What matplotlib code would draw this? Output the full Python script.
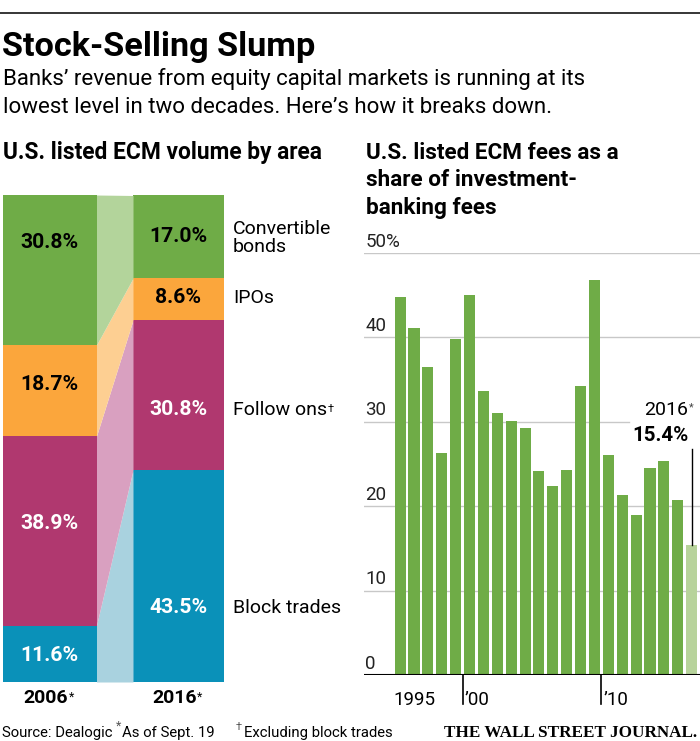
import matplotlib
matplotlib.use("Agg")
import matplotlib.pyplot as plt

W, H = 700, 741
plt.rcParams['font.family'] = ['Roboto', 'DejaVu Sans']

# left panel: share of ECM volume (%)
areas = ["Block trades", "Follow ons", "IPOs", "Convertible\nbonds"]
vol_2006 = [11.6, 38.9, 18.7, 30.8]
vol_2016 = [43.5, 30.8, 8.6, 17.0]
bar_years = ["2006", "2016"]

# right panel: ECM fees as share of investment-banking fees (%)
years = list(range(1995, 2017))
fee_share = [44.8, 41.1, 36.5, 26.3, 39.8, 45.0, 33.6, 31.0, 30.1, 29.3, 24.2,
             22.4, 24.3, 34.3, 46.8, 26.1, 21.3, 18.9, 24.5, 25.4, 20.7, 15.4]

seg_colors = ["#0a91b9", "#b0386f", "#fba63c", "#6fac47"]
link_colors = ["#a9d2df", "#d9a0c0", "#fdcf92", "#b3d49b"]
txt_colors = ["white", "white", "black", "black"]


def fx(x):
    return x / W


def fy(y):
    return 1 - y / H


fig = plt.figure(figsize=(W / 100, H / 100), dpi=100)
fig.patch.set_facecolor("white")

# header
fig.add_artist(plt.Line2D([0, 1], [fy(12.7), fy(12.7)], color="black", lw=1.1))
fig.text(fx(2), fy(56), "Stock-Selling Slump", fontsize=24.7, fontweight="bold",
         va="baseline", ha="left")
fig.text(fx(3), fy(85), "Banks\u2019 revenue from equity capital markets is running at its",
         fontsize=16, va="baseline")
fig.text(fx(3), fy(113), "lowest level in two decades. Here\u2019s how it breaks down.",
         fontsize=16, va="baseline")
fig.text(fx(3), fy(159), "U.S. listed ECM volume by area", fontsize=16.4,
         fontweight="bold", va="baseline")
for k, line in enumerate(["U.S. listed ECM fees as a", "share of investment-",
                          "banking fees"]):
    fig.text(fx(366), fy(159 + 27.5 * k), line, fontsize=16.2, fontweight="bold",
             va="baseline")

# ---- left: stacked 100% bars with connecting bands
ax1 = fig.add_axes([fx(3), fy(682), fx(221), (682 - 195) / H])
x06, x16, bw06, bw16 = 0, 130, 93.5, 91
b06 = 0
b16 = 0
for i in range(len(areas)):
    ax1.bar(x06, vol_2006[i], bw06, bottom=b06, align="edge", color=seg_colors[i], lw=0)
    ax1.bar(x16, vol_2016[i], bw16, bottom=b16, align="edge", color=seg_colors[i], lw=0)
    ax1.fill_between([x06 + bw06, x16], [b06, b16],
                     [b06 + vol_2006[i], b16 + vol_2016[i]],
                     color=link_colors[i], lw=0)
    b06 += vol_2006[i]
    b16 += vol_2016[i]
ax1.set_xlim(0, 221)
ax1.set_ylim(0, 100)
ax1.axis("off")

# value labels (y in % of bar height)
lab06_y = [5.5, 32.6, 61.0, 90.3]
lab16_y = [15.2, 55.9, 78.9, 91.4]
legend_y = [15.2, 55.9, 78.9, 91.2]
legend_txt = []
for i in range(len(areas)):
    ax1.text(x06 + bw06 / 2, lab06_y[i], f"{vol_2006[i]:.1f}%", ha="center",
             va="center", fontsize=15.2, fontweight="bold", color=txt_colors[i])
    ax1.text(x16 + bw16 / 2, lab16_y[i], f"{vol_2016[i]:.1f}%", ha="center",
             va="center", fontsize=15.2, fontweight="bold", color=txt_colors[i])
    legend_txt.append(ax1.text(230, legend_y[i], areas[i], ha="left", va="center",
                               fontsize=14, linespacing=1.05, clip_on=False))

fig.canvas.draw()
rend = fig.canvas.get_renderer()


def sup_after(t, s, size, dy=0, color="black"):
    bb = t.get_window_extent(rend)
    return fig.text((bb.x1 + 0.5) / W, (bb.y1 - 1 + dy) / H, s, fontsize=size,
                    ha="left", va="top", color=color)


sup_after(legend_txt[1], "\u2020", 8, -2)

for xc, yr in [(x06 + bw06 / 2 - 4, bar_years[0]), (x16 + bw16 / 2 - 4, bar_years[1])]:
    t = ax1.text(xc, -4.4, yr, ha="center", va="baseline", fontsize=14,
                 fontweight="bold", clip_on=False)
    sup_after(t, "*", 9, 0)

# ---- right: bar chart
ax2 = fig.add_axes([fx(364), fy(675), fx(336), (675 - 253) / H])
colors = ["#6fac47"] * (len(years) - 1) + ["#b7d39b"]
ax2.bar(years, fee_share, width=0.8, color=colors, lw=0, zorder=2)
ax2.set_xlim(1992.4, 2016.6)
ax2.set_ylim(0, 50)
for s in ax2.spines.values():
    s.set_visible(False)
ax2.set_xticks([])
ax2.set_yticks([])
for v in [10, 20, 30, 40, 50]:
    xmax = 0.79 if v == 30 else 1
    ax2.axhline(v, xmin=0, xmax=xmax, color="#c8c8c8", lw=1, zorder=1)
    ax2.text(1992.5, v + 0.75, f"{v}%" if v == 50 else str(v), ha="left",
             va="baseline", fontsize=13.5, color="#222222")
ax2.text(1992.5, 0.75, "0", ha="left", va="baseline", fontsize=13.5, color="#222222")
ax2.axhline(0, color="black", lw=1.5, zorder=3)

# year ticks below the baseline
ax2.text(1994.55, -3.5, "1995", ha="left", va="baseline", fontsize=13.5,
         clip_on=False)
for yr, lab in [(1999.5, "\u201900"), (2009.5, "\u201910")]:
    ax2.plot([yr, yr], [0, -3.4], color="black", lw=1.2, clip_on=False)
    ax2.text(yr + 0.15, -3.5, lab, ha="left", va="baseline", fontsize=13.5,
             clip_on=False)

# 2016 callout
ax2.plot([2016, 2016], [fee_share[-1], 26.8], color="black", lw=1, zorder=3)
t16 = ax2.text(2015.75, 30.8, "2016", ha="right", va="baseline", fontsize=14,
               clip_on=False)
sup_after(t16, "*", 8, 0, "#444444")
ax2.text(2015.75, 27.7, f"{fee_share[-1]:.1f}%", ha="right", va="baseline",
         fontsize=14.8, fontweight="bold", clip_on=False)

# footer
fig.text(fx(2), fy(737), "Source: Dealogic", fontsize=10.7, va="baseline")
fig.text(fx(115.5), fy(726), "*", fontsize=9, va="center", color="#555555")
fig.text(fx(122), fy(737), "As of Sept. 19", fontsize=10.7, va="baseline")
fig.text(fx(236), fy(727), "\u2020", fontsize=8, va="center", color="#555555")
fig.text(fx(244), fy(737), "Excluding block trades", fontsize=10.7, va="baseline")
fig.text(fx(697), fy(737), "THE WALL STREET JOURNAL.", fontsize=12.3,
         family="Liberation Serif", fontweight="bold", ha="right", va="baseline")

fig.savefig("out.png", dpi=100, facecolor="white")
